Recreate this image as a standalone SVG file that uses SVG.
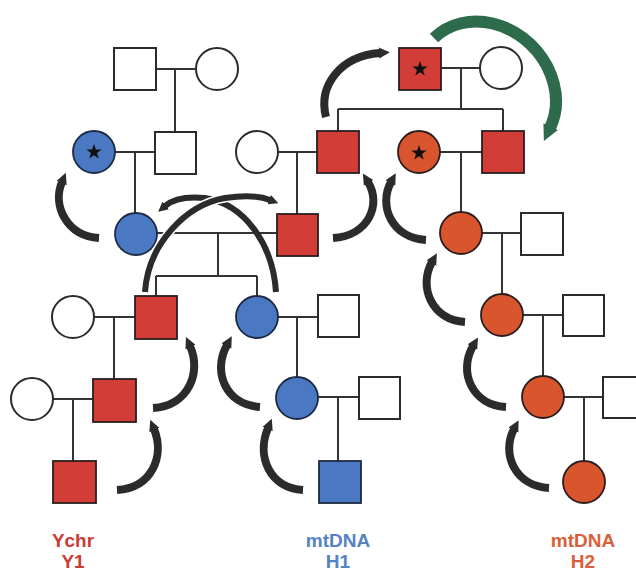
<svg xmlns="http://www.w3.org/2000/svg" width="636" height="572" viewBox="0 0 636 572">
<defs>
<style>
.ln{stroke:#333;stroke-width:2;fill:none}
.w{fill:#fff;stroke:#2b2b2b;stroke-width:2}
.r{fill:#d33d37;stroke:#2a1d1d;stroke-width:1.8}
.b{fill:#4a78c2;stroke:#1c2a44;stroke-width:1.8}
.o{fill:#d9552e;stroke:#2a1d1d;stroke-width:1.8}
.arr{fill:none;stroke:#2b2b2b;stroke-width:8;marker-end:url(#ah)}
.arrt{fill:none;stroke:#2b2b2b;stroke-width:6;marker-end:url(#ah2)}
.lbl{font-family:"Liberation Sans",Arial,sans-serif;font-weight:bold;font-size:19px;text-anchor:middle}
</style>
<marker id="ah" viewBox="0 0 10 10" refX="1" refY="5" markerUnits="userSpaceOnUse" markerWidth="11" markerHeight="15" orient="auto">
<path d="M0,0 L10,5 L0,10 z" fill="#2b2b2b"/>
</marker>
<marker id="ah2" viewBox="0 0 10 10" refX="1" refY="5" markerUnits="userSpaceOnUse" markerWidth="10" markerHeight="13" orient="auto">
<path d="M0,0 L10,5 L0,10 z" fill="#2b2b2b"/>
</marker>
<marker id="gh" viewBox="0 0 10 10" refX="1" refY="5" markerUnits="userSpaceOnUse" markerWidth="16" markerHeight="24" orient="auto">
<path d="M0,0 L10,5 L0,10 z" fill="#2e6a4c"/>
</marker>
<polygon id="star" points="0,-8 1.9,-2.6 7.6,-2.5 3.05,1 4.7,6.5 0,3.2 -4.7,6.5 -3.05,1 -7.6,-2.5 -1.9,-2.6" fill="#111"/>
</defs>
<rect width="636" height="572" fill="#fff"/>

<g id="connectors">
<path class="ln" d="M156,69 H196 M175,69 V132"/>
<path class="ln" d="M115,152 H155 M135,152 V213"/>
<path class="ln" d="M278,152 H317 M297,152 V214"/>
<path class="ln" d="M441,68 H480 M461,68 V109 M338,109 H503 M338,109 V131 M503,109 V131"/>
<path class="ln" d="M440,152 H482 M461,152 V212"/>
<path class="ln" d="M157,233 H277 M218,233 V276 M156,276 H257 M156,276 V296 M257,276 V296"/>
<path class="ln" d="M482,233 H521 M502,233 V294"/>
<path class="ln" d="M94,317 H135 M114,317 V379"/>
<path class="ln" d="M53,399 H93 M73,399 V461"/>
<path class="ln" d="M278,317 H318 M297,317 V377"/>
<path class="ln" d="M318,397 H359 M338,397 V461"/>
<path class="ln" d="M523,315 H563 M543,315 V376"/>
<path class="ln" d="M564,397 H603 M584,397 V461"/>
</g>

<g id="n1"><rect class="w" x="114" y="48" width="42" height="42"/></g>
<g id="n2"><circle class="w" cx="217" cy="69" r="21"/></g>
<g id="n3"><circle class="b" cx="94" cy="152" r="21"/><use href="#star" x="94" y="152"/></g>
<g id="n4"><rect class="w" x="155" y="132" width="41" height="42"/></g>
<g id="n5"><circle class="w" cx="257" cy="152" r="21"/></g>
<g id="n6"><rect class="r" x="317" y="131" width="42" height="42"/></g>
<g id="n7"><rect class="r" x="399" y="48" width="42" height="42"/><use href="#star" x="420" y="69"/></g>
<g id="n8"><circle class="w" cx="501" cy="68" r="21"/></g>
<g id="n9"><circle class="o" cx="419" cy="152" r="21"/><use href="#star" x="419" y="153"/></g>
<g id="n10"><rect class="r" x="482" y="131" width="42" height="42"/></g>
<g id="n11"><circle class="b" cx="136" cy="234" r="21"/></g>
<g id="n12"><rect class="r" x="277" y="214" width="41" height="42"/></g>
<g id="n13"><circle class="o" cx="461" cy="233" r="21"/></g>
<g id="n14"><rect class="w" x="521" y="213" width="42" height="42"/></g>
<g id="n15"><circle class="w" cx="73" cy="317" r="21"/></g>
<g id="n16"><rect class="r" x="135" y="296" width="42" height="43"/></g>
<g id="n17"><circle class="b" cx="257" cy="317" r="21"/></g>
<g id="n18"><rect class="w" x="318" y="295" width="41" height="42"/></g>
<g id="n19"><circle class="o" cx="502" cy="315" r="21"/></g>
<g id="n20"><rect class="w" x="563" y="295" width="41" height="41"/></g>
<g id="n21"><circle class="w" cx="32" cy="399" r="21"/></g>
<g id="n22"><rect class="r" x="93" y="379" width="43" height="43"/></g>
<g id="n23"><circle class="b" cx="297" cy="398" r="21"/></g>
<g id="n24"><rect class="w" x="359" y="377" width="41" height="42"/></g>
<g id="n25"><circle class="o" cx="543" cy="397" r="21"/></g>
<g id="n26"><rect class="w" x="603" y="377" width="42" height="41"/></g>
<g id="n27"><rect class="r" x="53" y="461" width="43" height="42"/></g>
<g id="n28"><rect class="b" x="319" y="461" width="42" height="42"/></g>
<g id="n29"><circle class="o" cx="584" cy="482" r="21"/></g>

<g id="arrows">
<path class="arr" d="M99,238 C67,236 52,206 62,182"/>
<path class="arr" d="M326,117 C318,86 340,56 380,53"/>
<path class="arr" d="M333,238 C368,236 382,205 368,182"/>
<path class="arr" d="M426,240 C392,238 378,206 391,182"/>
<path class="arr" d="M465,322 C432,320 418,287 432,262"/>
<path class="arr" d="M506,407 C472,405 458,372 473,346"/>
<path class="arr" d="M549,488 C515,486 501,454 514,429"/>
<path class="arr" d="M260,407 C226,405 212,372 227,345"/>
<path class="arr" d="M303,490 C270,488 256,457 268,428"/>
<path class="arr" d="M153,408 C188,406 202,373 190,346"/>
<path class="arr" d="M117,490 C152,488 165,456 154,429"/>
<path class="arrt" d="M276,292 C273,245 245,204 205,198 C185,196 172,200 165,206"/>
<path d="M145,292 C148,245 185,205 225,198 C245,195 260,196 270,200" fill="none" stroke="#fff" stroke-width="9"/>
<path class="arrt" d="M145,292 C148,245 185,205 225,198 C245,195 260,196 270,200"/>
<path d="M434,38 C465,8 522,20 547,66 C559,90 558,111 550,128" fill="none" stroke="#2e6a4c" stroke-width="12" marker-end="url(#gh)"/>
</g>

<g id="labels">
<text class="lbl" x="73" y="547" fill="#cc3a36">Ychr</text>
<text class="lbl" x="73" y="568" fill="#cc3a36">Y1</text>
<text class="lbl" x="338" y="547" fill="#5482c4">mtDNA</text>
<text class="lbl" x="338" y="568" fill="#5482c4">H1</text>
<text class="lbl" x="583" y="547" fill="#d8603c">mtDNA</text>
<text class="lbl" x="583" y="568" fill="#d8603c">H2</text>
</g>
</svg>
